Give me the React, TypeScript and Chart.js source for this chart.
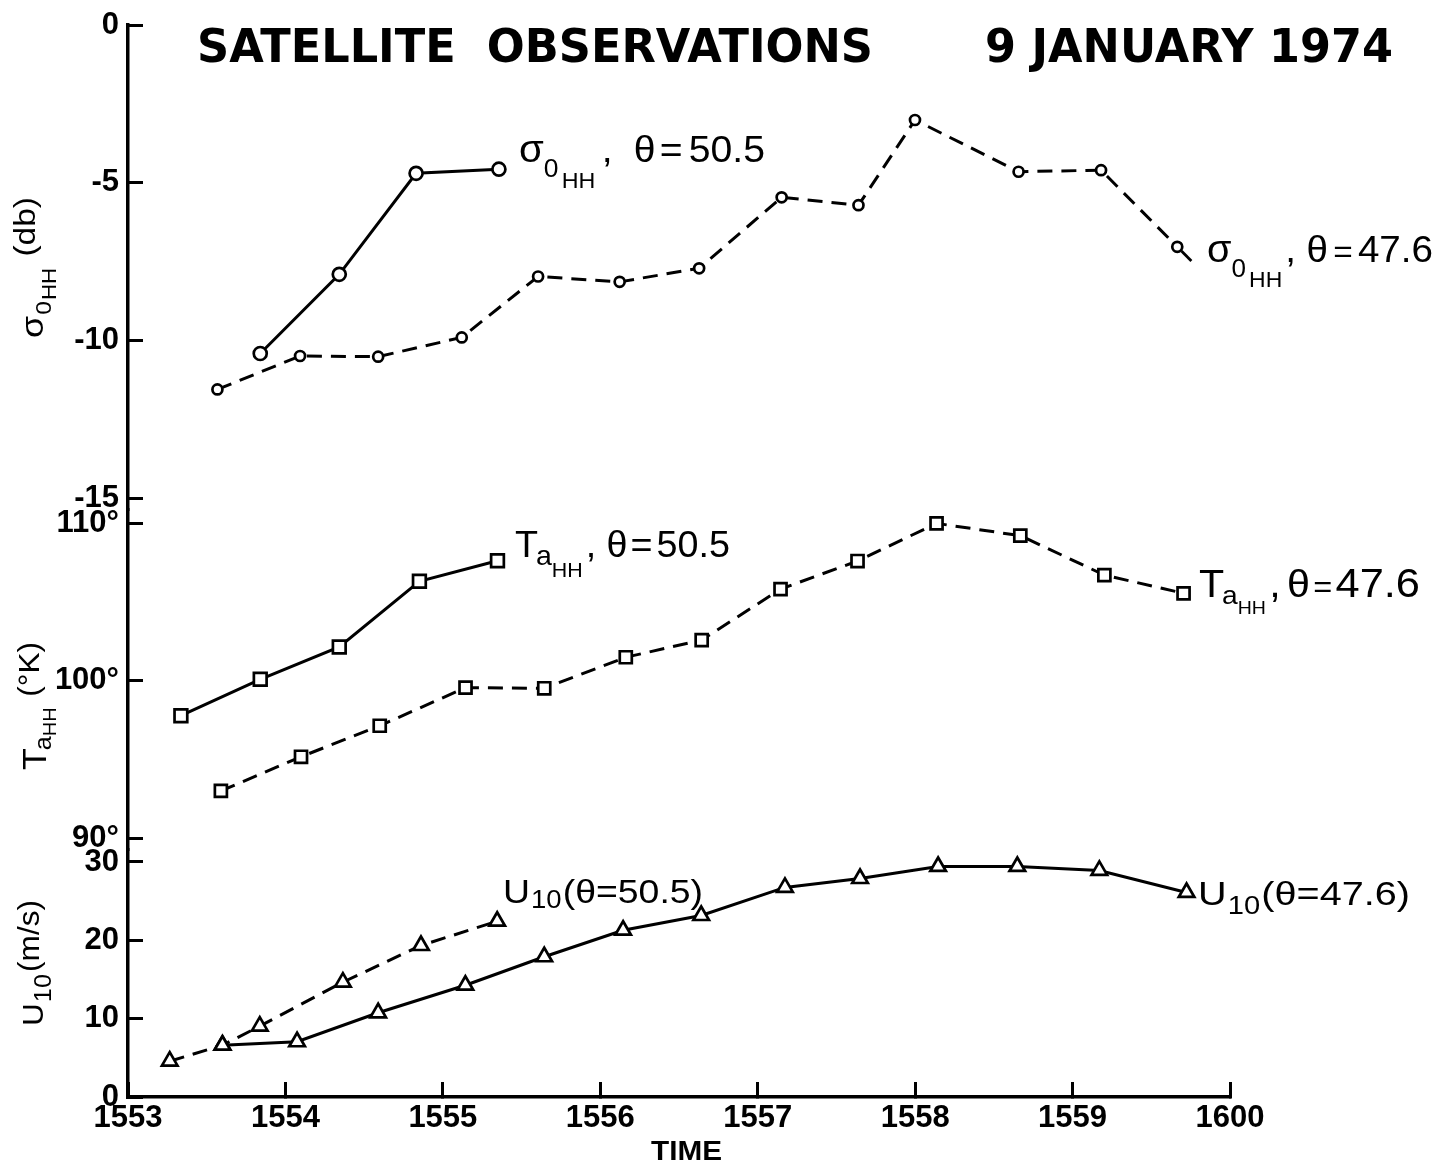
import { useEffect, useRef } from "react";
import { Chart, registerables } from "chart.js";

Chart.register(...registerables);

// ---------- data (time = minutes after 15:53) ----------
const xTickLabels = ["1553", "1554", "1555", "1556", "1557", "1558", "1559", "1600"];
const sigmaTicks = [0, -5, -10, -15];
const taTicks = [90, 100, 110];
const uTicks = [0, 10, 20, 30];

const sigma505Time = [0.84, 1.342, 1.83, 2.356];
const sigma505 = [-10.41, -7.9, -4.7, -4.57];

const sigma476Time = [0.568, 1.093, 1.589, 2.12, 2.605, 3.123, 3.628, 4.152, 4.64, 4.999, 5.657, 6.181, 6.665];
const sigma476 = [-11.55, -10.49, -10.51, -9.9, -7.97, -8.14, -7.71, -5.46, -5.71, -3.01, -4.65, -4.6, -7.03];

const ta505Time = [0.336, 0.84, 1.342, 1.851, 2.347];
const ta505 = [97.78, 100.09, 102.14, 106.31, 107.62];

const ta476Time = [0.59, 1.099, 1.599, 2.144, 2.644, 3.162, 3.644, 4.145, 4.634, 5.136, 5.668, 6.202, 6.705];
const ta476 = [93.0, 95.17, 97.14, 99.56, 99.52, 101.49, 102.58, 105.82, 107.6, 109.99, 109.21, 106.71, 105.55];

const u505Time = [0.265, 0.6, 0.837, 1.365, 1.861, 2.345];
const u505 = [4.57, 6.61, 9.04, 14.66, 19.34, 22.44];

const u476Time = [0.6, 1.074, 1.589, 2.143, 2.644, 3.145, 3.641, 4.173, 4.65, 5.146, 5.649, 6.17, 6.724];
const u476 = [6.61, 7.05, 10.75, 14.27, 17.9, 21.29, 23.17, 26.75, 27.89, 29.43, 29.43, 28.92, 26.11];

// ---------- styling ----------
const TXT = '"Liberation Sans", Arial, sans-serif';
const TICK = '"Liberation Sans", Arial, sans-serif';
const HEAD = '"DejaVu Sans", sans-serif';

type Seg = { t: string; size: number; dy?: number; gap?: number };

function drawRich(
  ctx: CanvasRenderingContext2D,
  segs: Seg[],
  x: number,
  y: number,
  width: number,
  family: string,
  rotate = false,
  weight = "normal"
) {
  ctx.save();
  let natural = 0;
  for (const s of segs) {
    ctx.font = `${weight} ${s.size}px ${family}`;
    natural += (s.gap || 0) + ctx.measureText(s.t).width;
  }
  const sx = width / natural;
  ctx.translate(x, y);
  if (rotate) ctx.rotate(-Math.PI / 2);
  ctx.scale(sx, 1);
  ctx.fillStyle = "#000";
  ctx.textBaseline = "alphabetic";
  ctx.textAlign = "left";
  let cx = 0;
  for (const s of segs) {
    cx += s.gap || 0;
    ctx.font = `${weight} ${s.size}px ${family}`;
    ctx.fillText(s.t, cx, s.dy || 0);
    cx += ctx.measureText(s.t).width;
  }
  ctx.restore();
}

const seriesLabels: { x: number; y: number; w: number; segs: Seg[] }[] = [
  {
    x: 519, y: 162, w: 246,
    segs: [
      { t: "σ", size: 38 },
      { t: "0", size: 25, dy: 15, gap: 0 },
      { t: "HH", size: 22, dy: 26, gap: 3 },
      { t: ",", size: 37, gap: 6 },
      { t: "θ", size: 37, gap: 20 },
      { t: "=", size: 37, gap: 4 },
      { t: "50.5", size: 37, gap: 6 },
    ],
  },
  {
    x: 1207, y: 262, w: 226,
    segs: [
      { t: "σ", size: 38 },
      { t: "0", size: 25, dy: 15, gap: 0 },
      { t: "HH", size: 22, dy: 25, gap: 3 },
      { t: ",", size: 37, gap: 3 },
      { t: "θ", size: 37, gap: 10 },
      { t: "=", size: 32, gap: 5 },
      { t: "47.6", size: 37, gap: 5 },
    ],
  },
  {
    x: 515, y: 557, w: 215,
    segs: [
      { t: "T", size: 37 },
      { t: "a", size: 28, dy: 8, gap: -2 },
      { t: "HH", size: 21, dy: 20 },
      { t: ",", size: 37, gap: 3 },
      { t: "θ", size: 37, gap: 10 },
      { t: "=", size: 37, gap: 3 },
      { t: "50.5", size: 37, gap: 4 },
    ],
  },
  {
    x: 1199, y: 597, w: 221,
    segs: [
      { t: "T", size: 38 },
      { t: "a", size: 26, dy: 7, gap: -2 },
      { t: "HH", size: 18, dy: 17 },
      { t: ",", size: 38, gap: 3 },
      { t: "θ", size: 38, gap: 6 },
      { t: "=", size: 30, gap: 3 },
      { t: "47.6", size: 40, gap: 3 },
    ],
  },
  {
    x: 503, y: 903, w: 200,
    segs: [
      { t: "U", size: 34 },
      { t: "10", size: 25, dy: 5, gap: 1 },
      { t: "(θ=50.5)", size: 34, gap: 1 },
    ],
  },
  {
    x: 1198, y: 905, w: 212,
    segs: [
      { t: "U", size: 34 },
      { t: "10", size: 25, dy: 9, gap: 1 },
      { t: "(θ=47.6)", size: 34, gap: 1 },
    ],
  },
];

const axisTitles: { x: number; y: number; w: number; segs: Seg[] }[] = [
  {
    x: 43, y: 338, w: 141,
    segs: [
      { t: "σ", size: 32 },
      { t: "0", size: 22, dy: 8, gap: 1 },
      { t: "HH", size: 20, dy: 13, gap: 1 },
      { t: "(db)", size: 30, dy: -8, gap: 10 },
    ],
  },
  {
    x: 46, y: 770, w: 128,
    segs: [
      { t: "T", size: 34 },
      { t: "a", size: 24, dy: 5, gap: -2 },
      { t: "HH", size: 19, dy: 10 },
      { t: "(°K)", size: 30, dy: -7, gap: 10 },
    ],
  },
  {
    x: 43, y: 1026, w: 126,
    segs: [
      { t: "U", size: 30 },
      { t: "10", size: 24, dy: 8, gap: 1 },
      { t: "(m/s)", size: 30, dy: -4, gap: 2 },
    ],
  },
];

const annotationPlugin = {
  id: "annotations",
  afterDraw(chart: any) {
    const ctx: CanvasRenderingContext2D = chart.ctx;
    // title
    drawRich(ctx, [{ t: "SATELLITE  OBSERVATIONS", size: 47 }], 197, 62, 676, HEAD, false, "bold");
    drawRich(ctx, [{ t: "9 JANUARY 1974", size: 47 }], 985, 62, 408, HEAD, false, "bold");
    // x axis title
    drawRich(ctx, [{ t: "TIME", size: 28 }], 651, 1160, 71, TXT, false, "bold");
    for (const l of seriesLabels) drawRich(ctx, l.segs, l.x, l.y, l.w, TXT);
    for (const l of axisTitles) drawRich(ctx, l.segs, l.x, l.y, l.w, TXT, true);
    // leader from last sigma(47.6) point toward its label
    const pts = chart.getDatasetMeta(1).data;
    if (pts.length > 1) {
      const a = pts[pts.length - 2];
      const b = pts[pts.length - 1];
      const dx = b.x - a.x;
      const dy = b.y - a.y;
      const len = Math.hypot(dx, dy) || 1;
      const ux = dx / len;
      const uy = dy / len;
      ctx.save();
      ctx.strokeStyle = "#000";
      ctx.lineWidth = 2.8;
      ctx.beginPath();
      ctx.moveTo(b.x + ux * 6, b.y + uy * 6);
      ctx.lineTo(b.x + ux * 20, b.y + uy * 20);
      ctx.stroke();
      ctx.restore();
    }
  },
};

function series(
  label: string,
  xs: number[],
  ys: number[],
  yAxisID: string,
  dashed: boolean,
  pointStyle: string,
  r: number
) {
  return {
    label,
    data: xs.map((x, i) => ({ x, y: ys[i] })),
    yAxisID,
    borderColor: "#000",
    borderWidth: 3,
    borderDash: dashed ? [15, 9] : [],
    pointStyle,
    pointRadius: r,
    pointBackgroundColor: "#fff",
    pointBorderColor: "#000",
    pointBorderWidth: 2.7,
    tension: 0,
    fill: false,
  };
}

function yAxis(ticks: number[], min: number, max: number, stackWeight: number, weight: number, fmt: (v: number) => string) {
  return {
    type: "linear",
    position: "left",
    stack: "left",
    stackWeight,
    weight,
    min,
    max,
    afterBuildTicks: (s: any) => {
      s.ticks = ticks.map((v) => ({ value: v }));
    },
    afterFit: (s: any) => {
      s.width = 120;
      s.paddingTop = 0;
      s.paddingBottom = 0;
    },
    border: { display: true, color: "#000", width: 3.5 },
    grid: { drawOnChartArea: false, drawTicks: true, tickLength: -15, tickColor: "#000", tickWidth: 3 },
    ticks: {
      callback: (v: number) => fmt(v),
      padding: 24,
      font: { family: TICK, size: 31, weight: "bold" },
      color: "#000",
      autoSkip: false,
    },
  };
}

export default function App() {
  const ref = useRef<HTMLCanvasElement>(null);
  useEffect(() => {
    if (!ref.current) return;
    const chart = new Chart(ref.current, {
      type: "line",
      data: {
        datasets: [
          series("σ0HH θ=50.5", sigma505Time, sigma505, "ySigma", false, "circle", 6.5),
          series("σ0HH θ=47.6", sigma476Time, sigma476, "ySigma", true, "circle", 5),
          series("TaHH θ=50.5", ta505Time, ta505, "yTa", false, "rect", 9),
          series("TaHH θ=47.6", ta476Time, ta476, "yTa", true, "rect", 8.5),
          series("U10 θ=50.5", u505Time, u505, "yU", true, "triangle", 9),
          series("U10 θ=47.6", u476Time, u476, "yU", false, "triangle", 9),
        ] as any,
      },
      options: {
        animation: false,
        responsive: false,
        devicePixelRatio: 1,
        events: [],
        layout: { padding: { left: 8, top: 25, right: 208, bottom: 0 } },
        plugins: { legend: { display: false }, tooltip: { enabled: false }, title: { display: false } },
        scales: {
          x: {
            type: "linear",
            position: "bottom",
            min: 0,
            max: 7,
            afterBuildTicks: (s: any) => {
              s.ticks = xTickLabels.map((_, i) => ({ value: i }));
            },
            afterFit: (s: any) => {
              s.height = 66;
              s.paddingLeft = 0;
              s.paddingRight = 0;
            },
            border: { display: true, color: "#000", width: 3.5 },
            grid: { drawOnChartArea: false, drawTicks: true, tickLength: -15, tickColor: "#000", tickWidth: 3 },
            ticks: {
              callback: (v: number) => xTickLabels[v] ?? "",
              padding: 18,
              font: { family: TICK, size: 31, weight: "bold" },
              color: "#000",
              maxRotation: 0,
              autoSkip: false,
            },
          },
          ySigma: yAxis(sigmaTicks, -15.37, 0, 485, 3, (v) => String(v)),
          yTa: yAxis(taTicks, 89.25, 110.84, 340, 2, (v) => `${v}°`),
          yU: yAxis(uTicks, 0, 31.53, 247, 1, (v) => String(v)),
        } as any,
      },
      plugins: [annotationPlugin],
    } as any);
    return () => chart.destroy();
  }, []);
  return (
    <div style={{ position: "absolute", left: 0, top: 0, width: 1438, height: 1163, background: "#fff" }}>
      <canvas ref={ref} width={1438} height={1163} style={{ display: "block", width: 1438, height: 1163 }} />
    </div>
  );
}
